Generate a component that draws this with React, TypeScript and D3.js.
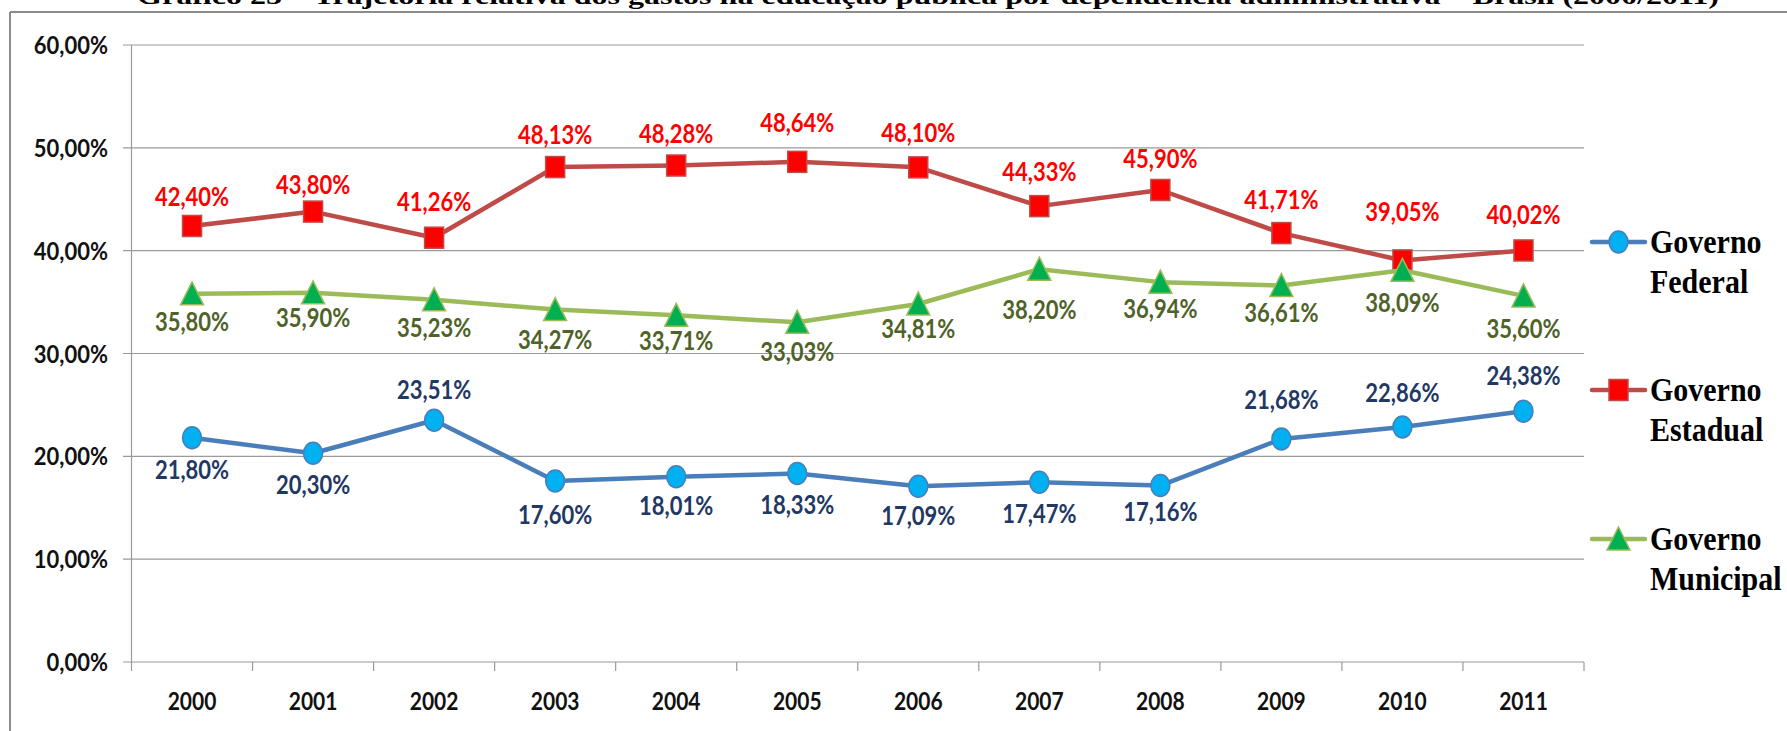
import React from "react";
import * as d3 from "d3";

const years = ["2000","2001","2002","2003","2004","2005","2006","2007","2008","2009","2010","2011"];
const federal = [21.80, 20.30, 23.51, 17.60, 18.01, 18.33, 17.09, 17.47, 17.16, 21.68, 22.86, 24.38];
const estadual = [42.40, 43.80, 41.26, 48.13, 48.28, 48.64, 48.10, 44.33, 45.90, 41.71, 39.05, 40.02];
const municipal = [35.80, 35.90, 35.23, 34.27, 33.71, 33.03, 34.81, 38.20, 36.94, 36.61, 38.09, 35.60];
const yTicks = [0, 10, 20, 30, 40, 50, 60];

// label vertical offsets (px) relative to the marker, as placed in the original
const dyFederal = [32, 31, -31, 34, 29, 31, 29, 31, 26, -39, -34, -36];
const dyEstadual = [-29, -27, -36, -32, -32, -39, -35, -34, -31, -33, -49, -36];
const dyMunicipal = [28, 25, 28, 30, 25, 29, 25, 41, 27, 27, 32, 33];

const title = "Gráfico 25 – Trajetória relativa dos gastos na educação pública por dependência administrativa – Brasil (2000/2011)";

const fmt = (v: number) => v.toFixed(2).replace(".", ",") + "%";

type Series = {
  name: string[];
  values: number[];
  dy: number[];
  line: string;
  fill: string;
  label: string;
  shape: "circle" | "square" | "triangle";
};

const series: Series[] = [
  { name: ["Governo", "Federal"], values: federal, dy: dyFederal, line: "#4A7EBB", fill: "#00B0F0", label: "#1F3864", shape: "circle" },
  { name: ["Governo", "Estadual"], values: estadual, dy: dyEstadual, line: "#BE4B48", fill: "#FF0000", label: "#FF0000", shape: "square" },
  { name: ["Governo", "Municipal"], values: municipal, dy: dyMunicipal, line: "#9BBB59", fill: "#00B050", label: "#4F6228", shape: "triangle" },
];

function Marker({ shape, x, y, fill, stroke }: { shape: string; x: number; y: number; fill: string; stroke: string }) {
  if (shape === "circle") {
    return <ellipse cx={x} cy={y} rx={9.5} ry={11} fill={fill} stroke={stroke} strokeWidth={1.5} />;
  }
  if (shape === "square") {
    return <rect x={x - 9.5} y={y - 10.5} width={19} height={21} fill={fill} stroke={stroke} strokeWidth={1.5} />;
  }
  const p = `M${x},${y - 12} L${x + 11.5},${y + 11} L${x - 11.5},${y + 11} Z`;
  return <path d={p} fill={fill} stroke={stroke} strokeWidth={1.5} />;
}

export default function App() {
  const left = 131.5, right = 1584, top = 45, bottom = 662;
  const x = d3.scaleBand().domain(years).range([left, right]);
  const bw = x.bandwidth();
  const cx = (yr: string) => (x(yr) as number) + bw / 2;
  const y = d3.scaleLinear().domain([0, 60]).range([bottom, top]);
  const lineGen = d3.line<number>().x((_, i) => cx(years[i])).y((d) => y(d));
  const sans = "Lato, 'Open Sans', sans-serif";
  const serif = "'Liberation Serif', 'DejaVu Serif', serif";
  const legendBase = [253, 401, 550];

  return (
    <svg width={1787} height={731} style={{ position: "absolute", left: 0, top: 0, background: "#fff" }}>
      <rect x={0} y={0} width={1787} height={731} fill="#fff" />
      <text x={137} y={4} fontFamily={serif} fontWeight="bold" fontSize={24} textLength={1582} lengthAdjust="spacingAndGlyphs" fill="#000">{title}</text>
      {/* frame */}
      <line x1={10} y1={12} x2={1787} y2={12} stroke="#8C8C8C" strokeWidth={2} />
      <line x1={10} y1={12} x2={10} y2={731} stroke="#8C8C8C" strokeWidth={2} />
      {/* gridlines */}
      {yTicks.map((t) => (
        <g key={t}>
          <line x1={123} x2={right} y1={y(t)} y2={y(t)} stroke="#9A9A9A" strokeWidth={1.2} />
          <text transform={`translate(108,${y(t)}) scale(1,1.15)`} textAnchor="end" dy="0.36em" fontFamily={sans} fontWeight="bold" fontSize={22} fill="#111">{fmt(t)}</text>
        </g>
      ))}
      {/* y axis */}
      <line x1={left} x2={left} y1={top} y2={bottom} stroke="#9A9A9A" strokeWidth={1.2} />
      {/* x ticks */}
      {years.map((yr) => (
        <line key={"t" + yr} x1={x(yr) as number} x2={x(yr) as number} y1={bottom} y2={bottom + 9} stroke="#9A9A9A" strokeWidth={1.2} />
      ))}
      <line x1={right} x2={right} y1={bottom} y2={bottom + 9} stroke="#9A9A9A" strokeWidth={1.2} />
      {years.map((yr) => (
        <text key={"l" + yr} transform={`translate(${cx(yr)},701) scale(1,1.2)`} textAnchor="middle" dy="0.36em" fontFamily={sans} fontWeight="bold" fontSize={21} fill="#111">{yr}</text>
      ))}
      {/* series */}
      {series.map((s) => (
        <g key={s.name[1]}>
          <path d={lineGen(s.values) || ""} fill="none" stroke={s.line} strokeWidth={4.5} strokeLinejoin="round" />
          {s.values.map((v, i) => (
            <Marker key={i} shape={s.shape} x={cx(years[i])} y={y(v)} fill={s.fill} stroke={s.line} />
          ))}
        </g>
      ))}
      {series.map((s) => (
        <g key={"lab" + s.name[1]}>
          {s.values.map((v, i) => (
            <text key={i} transform={`translate(${cx(years[i])},${y(v) + s.dy[i]}) scale(1,1.17)`} textAnchor="middle" dy="0.36em" fontFamily={sans} fontWeight="bold" fontSize={22} fill={s.label}>{fmt(v)}</text>
          ))}
        </g>
      ))}
      {/* legend */}
      {series.map((s, i) => {
        const b = legendBase[i];
        const my = b - 11;
        return (
          <g key={"lg" + s.name[1]}>
            <line x1={1592} x2={1645} y1={my} y2={my} stroke={s.line} strokeWidth={4.5} strokeLinecap="round" />
            <Marker shape={s.shape} x={1618.5} y={my} fill={s.fill} stroke={s.line} />
            <text transform={`translate(1650,${b}) scale(1,1.1)`} fontFamily={serif} fontWeight="bold" fontSize={30} fill="#000">{s.name[0]}</text>
            <text transform={`translate(1650,${b + 40}) scale(1,1.1)`} fontFamily={serif} fontWeight="bold" fontSize={30} fill="#000">{s.name[1]}</text>
          </g>
        );
      })}
    </svg>
  );
}
